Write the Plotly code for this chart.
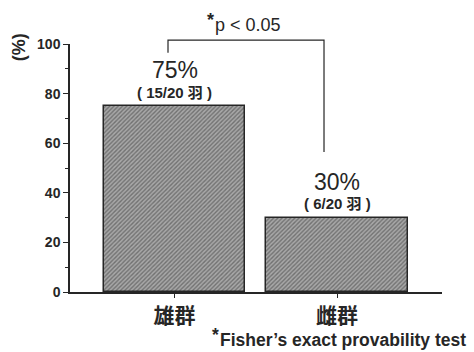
import plotly.graph_objects as go

# Share of birds per group (percent) and the counts behind it
groups = ["雄群", "雌群"]
percent = [75, 30]
counts = ["( 15/20 羽 )", "( 6/20 羽 )"]
pct_labels = ["75%", "30%"]
y_ticks = [0, 20, 40, 60, 80, 100]

INK = "#262626"
LATIN = "Liberation Sans, Arial, sans-serif"
CJK = "Noto Sans CJK JP, sans-serif"

fig = go.Figure(
    go.Bar(
        x=[0, 1],
        y=percent,
        width=0.87,
        marker=dict(
            color="#9c9c9c",
            line=dict(color=INK, width=1.5),
            pattern=dict(shape="/", size=3, solidity=0.45,
                         fgcolor="#3a3a3a", bgcolor="#a8a8a8"),
        ),
        hoverinfo="skip",
    )
)

# Percentage and count labels stacked above each bar
for i, (v, pl, cl) in enumerate(zip(percent, pct_labels, counts)):
    fig.add_annotation(x=i, y=v, xref="x", yref="y", text=cl, showarrow=False,
                       yanchor="middle", yshift=14,
                       font=dict(family=f"{LATIN}, {CJK}", size=15, color=INK, weight="bold"))
    fig.add_annotation(x=i, y=v, xref="x", yref="y", text=pl, showarrow=False,
                       yanchor="middle", yshift=36,
                       font=dict(family=LATIN, size=23, color=INK))

# Significance bracket between the two groups
ymax = 100
br_top = 101.6 / ymax
fig.add_shape(type="path", xref="x", yref="paper",
              path=f"M -0.04 {96.5 / ymax} L -0.04 {br_top} L 0.92 {br_top} L 0.92 {56.5 / ymax}",
              line=dict(color=INK, width=1.2))


def starred(x, y, xref, text, size, weight):
    """Left-anchored text with a raised asterisk just before it."""
    fig.add_annotation(x=x, y=y, xref=xref, yref="paper", xanchor="left", yanchor="middle",
                       text=text, showarrow=False,
                       font=dict(family=LATIN, size=size, color=INK, weight=weight))
    fig.add_annotation(x=x, y=y, xref=xref, yref="paper", xanchor="right", yanchor="middle",
                       text="*", showarrow=False, xshift=3, yshift=5,
                       font=dict(family=LATIN, size=size, color=INK, weight="bold"))


starred(0.237, 1.075, "x", "p < 0.05", 18, "normal")
starred(0.397, -0.193, "paper", "Fisher’s exact provability test", 17.5, "bold")

# Axis unit, written vertically above the y axis
fig.add_annotation(x=-0.17, y=1.05, xref="paper", yref="paper", text="(%)",
                   textangle=-90, showarrow=False,
                   font=dict(family=LATIN, size=18, color=INK, weight="bold"))

fig.update_layout(
    width=474, height=352,
    margin=dict(l=70, r=32, t=44, b=60),
    paper_bgcolor="white", plot_bgcolor="white",
    showlegend=False,
    bargap=0,
    xaxis=dict(
        range=[-0.643, 1.646],
        tickmode="array", tickvals=[0, 1], ticktext=groups,
        ticks="outside", ticklen=4, tickwidth=1.2, tickcolor=INK,
        showline=True, linecolor=INK, linewidth=1.5,
        showgrid=False, zeroline=False,
        tickfont=dict(family=CJK, size=21, color=INK, weight="bold"),
    ),
    yaxis=dict(
        range=[0, ymax],
        tickmode="array", tickvals=y_ticks,
        ticks="outside", ticklen=5, tickwidth=1.2, tickcolor=INK,
        minor=dict(dtick=10, tick0=0, ticks="outside", ticklen=3, tickcolor=INK, showgrid=False),
        showline=True, linecolor=INK, linewidth=1.5,
        showgrid=False, zeroline=False,
        tickfont=dict(family=LATIN, size=14, color=INK, weight="bold"),
    ),
)

fig.write_html("out.html")
